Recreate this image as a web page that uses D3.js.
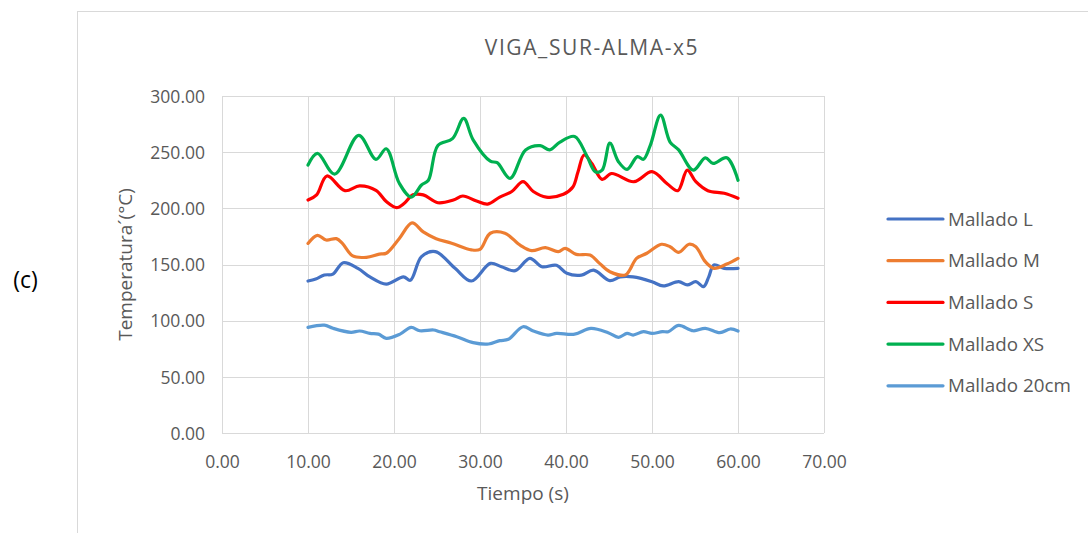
<!DOCTYPE html>
<html>
<head>
<meta charset="utf-8">
<script src="https://cdn.jsdelivr.net/npm/d3@7"></script>
<style>
  html, body { margin: 0; padding: 0; background: #ffffff; }
  svg { display: block; font-family: "Open Sans", "Noto Sans", sans-serif; }
</style>
</head>
<body>
<svg id="chart" width="1088" height="533"></svg>
<script>
// Temperature readings per mesh size (time in s, temperature in °C)
const timeL   = [10, 10.9, 11.9, 12.9, 14.1, 15.8, 17.2, 19.1, 21.1, 21.9, 23.2, 24.8, 27.1, 29, 31.2, 32.5, 34.1, 35.8, 37.2, 38.9, 40.1, 41.8, 43.2, 45.1, 46.3, 47.8, 50, 51.3, 53.1, 54.1, 55.1, 56, 56.6, 57.2, 58.4, 60];
const tempL   = [135.3, 137, 140.6, 141.5, 151.6, 146.6, 139, 132.6, 139, 136, 157, 161.5, 146.6, 135.3, 151, 148, 144.5, 155.5, 148, 149.3, 142.2, 140.6, 145, 135.6, 139, 139, 134.7, 130.9, 134.7, 131.8, 134.7, 130.3, 139, 149.6, 146.6, 146.6];

const timeM   = [10, 11.1, 12.1, 13.3, 14, 15.2, 16.8, 18.3, 19.1, 20.6, 22.1, 23.4, 24.9, 26.7, 29, 30, 31.2, 32.9, 34.7, 36, 37.6, 39.1, 39.9, 41.2, 42.8, 43.9, 45.1, 46.9, 47.4, 48.2, 49.4, 51.1, 52.1, 53.1, 54.3, 55.1, 56.2, 57.2, 58.7, 60];
const tempM   = [168.8, 176, 171.8, 173, 168.8, 157.6, 156.4, 159.3, 160, 173, 187, 179, 173, 169, 163, 163.5, 177.8, 177.8, 167, 162.3, 165, 161.4, 164.4, 159, 158.4, 151, 143.6, 140.6, 145, 155.5, 160, 168, 165.8, 160.8, 168, 165.8, 152.5, 146.6, 150.4, 155.5];

const timeS   = [10, 11, 12.2, 14.3, 16, 17.9, 19.1, 20.3, 21.2, 22.2, 23.4, 25.1, 26.9, 28, 29.6, 30.9, 32.3, 33.7, 35, 36.2, 37.7, 39.7, 40.8, 41.4, 42.1, 43, 44.2, 45.3, 47.9, 50, 51.8, 53, 54.1, 55.1, 56.5, 58.4, 60];
const tempS   = [207.4, 212, 228.8, 215.7, 220, 216, 206, 200.6, 204.5, 212, 212, 205, 207.4, 211, 206.5, 203.8, 210, 215, 223.7, 215, 210, 212.5, 219, 232.6, 247.5, 240, 225.8, 231, 223.7, 232.6, 221.6, 215.7, 234, 223.7, 215.7, 213.4, 209];

const timeXS  = [10, 11.1, 13.1, 15.9, 17.9, 19.1, 20.6, 22, 23.2, 24, 25.1, 26.8, 28.1, 29.2, 31.2, 32, 33.5, 35.3, 37, 38.1, 39.3, 41, 42.4, 43.4, 44.2, 45.1, 46.1, 47.1, 48.3, 49, 49.8, 51, 52.1, 53.1, 54.8, 56.2, 57.1, 58.7, 60];
const tempXS  = [238.6, 249, 230.5, 265, 243.6, 253, 222.5, 210, 220.8, 225, 256, 262, 280, 261, 242, 240.6, 226.7, 252, 255.8, 252, 259, 264, 247, 232.6, 234, 258, 241.5, 234.7, 246, 243.6, 256, 283, 259, 252, 234, 245, 240, 245, 225];

const time20  = [10, 11.9, 12.9, 15, 16, 17.2, 18.2, 19.1, 20.7, 22, 23, 24.6, 25.3, 27.3, 29.2, 31, 32.3, 33.3, 35, 36.2, 37.9, 38.9, 41, 42.9, 44.9, 46.1, 47.1, 47.8, 49, 50, 51.2, 51.9, 53.1, 54.8, 56.2, 57.9, 59.1, 60];
const temp20  = [94, 96, 93.2, 89.6, 90.8, 88.7, 88, 84.3, 88, 94, 91, 91.7, 90.2, 85.7, 80.4, 79.2, 82.2, 83.4, 94.6, 90.8, 87.2, 88.7, 88, 93.2, 89.3, 85.2, 88.7, 87.2, 90.2, 88.7, 90.2, 90.2, 95.8, 91, 93.2, 89.3, 92.6, 90.8];

const seriesNames  = ["Mallado L", "Mallado M", "Mallado S", "Mallado XS", "Mallado 20cm"];
const seriesColors = ["#4472C4", "#ED7D31", "#FF0000", "#00B050", "#5B9BD5"];
const seriesTimes  = [timeL, timeM, timeS, timeXS, time20];
const seriesTemps  = [tempL, tempM, tempS, tempXS, temp20];

const xTicks = [0, 10, 20, 30, 40, 50, 60, 70];
const yTicks = [0, 50, 100, 150, 200, 250, 300];

const chartTitle = "VIGA_SUR-ALMA-x5";
const xTitle = "Tiempo (s)";
const yTitle = "Temperatura´(°C)";
const panelLabel = "(c)";

const series = seriesNames.map((name, i) => ({
  name,
  color: seriesColors[i],
  points: seriesTimes[i].map((t, j) => ({ t, v: seriesTemps[i][j] }))
}));

const svg = d3.select("#chart");
const plot = { left: 222, right: 824, top: 96, bottom: 433 };

const x = d3.scaleLinear().domain([0, 70]).range([plot.left, plot.right]);
const y = d3.scaleLinear().domain([0, 300]).range([plot.bottom, plot.top]);

// chart frame
svg.append("rect")
  .attr("x", 77.5).attr("y", 11.5)
  .attr("width", 1020).attr("height", 540)
  .attr("fill", "none").attr("stroke", "#d9d9d9").attr("stroke-width", 1);

// gridlines
svg.append("g")
  .selectAll("line.h")
  .data(yTicks)
  .join("line")
  .attr("x1", plot.left).attr("x2", plot.right)
  .attr("y1", d => Math.round(y(d)) + 0.5).attr("y2", d => Math.round(y(d)) + 0.5)
  .attr("stroke", "#d9d9d9").attr("stroke-width", 1);

svg.append("g")
  .selectAll("line.v")
  .data(xTicks)
  .join("line")
  .attr("x1", d => Math.round(x(d)) + 0.5).attr("x2", d => Math.round(x(d)) + 0.5)
  .attr("y1", plot.top).attr("y2", plot.bottom)
  .attr("stroke", "#d9d9d9").attr("stroke-width", 1);

// axes (labels only, lines are the gridlines)
const xAxis = d3.axisBottom(x).tickValues(xTicks).tickFormat(d3.format(".2f")).tickSize(0).tickPadding(0);
const gx = svg.append("g").attr("transform", `translate(0,${plot.bottom})`).call(xAxis);
gx.select(".domain").remove();
gx.selectAll("text")
  .attr("dy", null).attr("y", 35)
  .attr("fill", "#595959").style("font-size", "17.5px")
  .style("font-family", "'Open Sans', 'Noto Sans', sans-serif");

const yAxis = d3.axisLeft(y).tickValues(yTicks).tickFormat(d3.format(".2f")).tickSize(0).tickPadding(0);
const gy = svg.append("g").attr("transform", `translate(${plot.left},0)`).call(yAxis);
gy.select(".domain").remove();
gy.selectAll("text")
  .attr("x", -17).attr("dy", "0.36em")
  .attr("fill", "#595959").style("font-size", "17.5px")
  .style("font-family", "'Open Sans', 'Noto Sans', sans-serif");

// series lines
const line = d3.line()
  .x(d => x(d.t))
  .y(d => y(d.v))
  .curve(d3.curveCatmullRom.alpha(0.5));

svg.append("g")
  .selectAll("path")
  .data(series)
  .join("path")
  .attr("d", d => line(d.points))
  .attr("fill", "none")
  .attr("stroke", d => d.color)
  .attr("stroke-width", 3.2)
  .attr("stroke-linejoin", "round")
  .attr("stroke-linecap", "round");

// titles
svg.append("text")
  .attr("x", 592).attr("y", 55)
  .attr("text-anchor", "middle")
  .attr("fill", "#595959").style("font-size", "21px")
  .style("letter-spacing", "1.6px")
  .text(chartTitle);

svg.append("text")
  .attr("x", 523).attr("y", 500)
  .attr("text-anchor", "middle")
  .attr("fill", "#595959").style("font-size", "19px")
  .text(xTitle);

svg.append("text")
  .attr("transform", `translate(132,${(plot.top + plot.bottom) / 2}) rotate(-90)`)
  .attr("text-anchor", "middle")
  .attr("fill", "#595959").style("font-size", "19px")
  .text(yTitle);

svg.append("text")
  .attr("x", 25.5).attr("y", 288)
  .attr("text-anchor", "middle")
  .attr("fill", "#000000").style("font-size", "23px")
  .text(panelLabel);

// legend
const legend = svg.append("g");
const legendRows = legend.selectAll("g")
  .data(series)
  .join("g")
  .attr("transform", (d, i) => `translate(888,${219 + i * 41.7})`);

legendRows.append("line")
  .attr("x1", 0).attr("x2", 55)
  .attr("y1", 0).attr("y2", 0)
  .attr("stroke", d => d.color)
  .attr("stroke-width", 3.2)
  .attr("stroke-linecap", "round");

legendRows.append("text")
  .attr("x", 60).attr("y", 0).attr("dy", "0.35em")
  .attr("fill", "#595959").style("font-size", "18.8px")
  .text(d => d.name);
</script>
</body>
</html>
